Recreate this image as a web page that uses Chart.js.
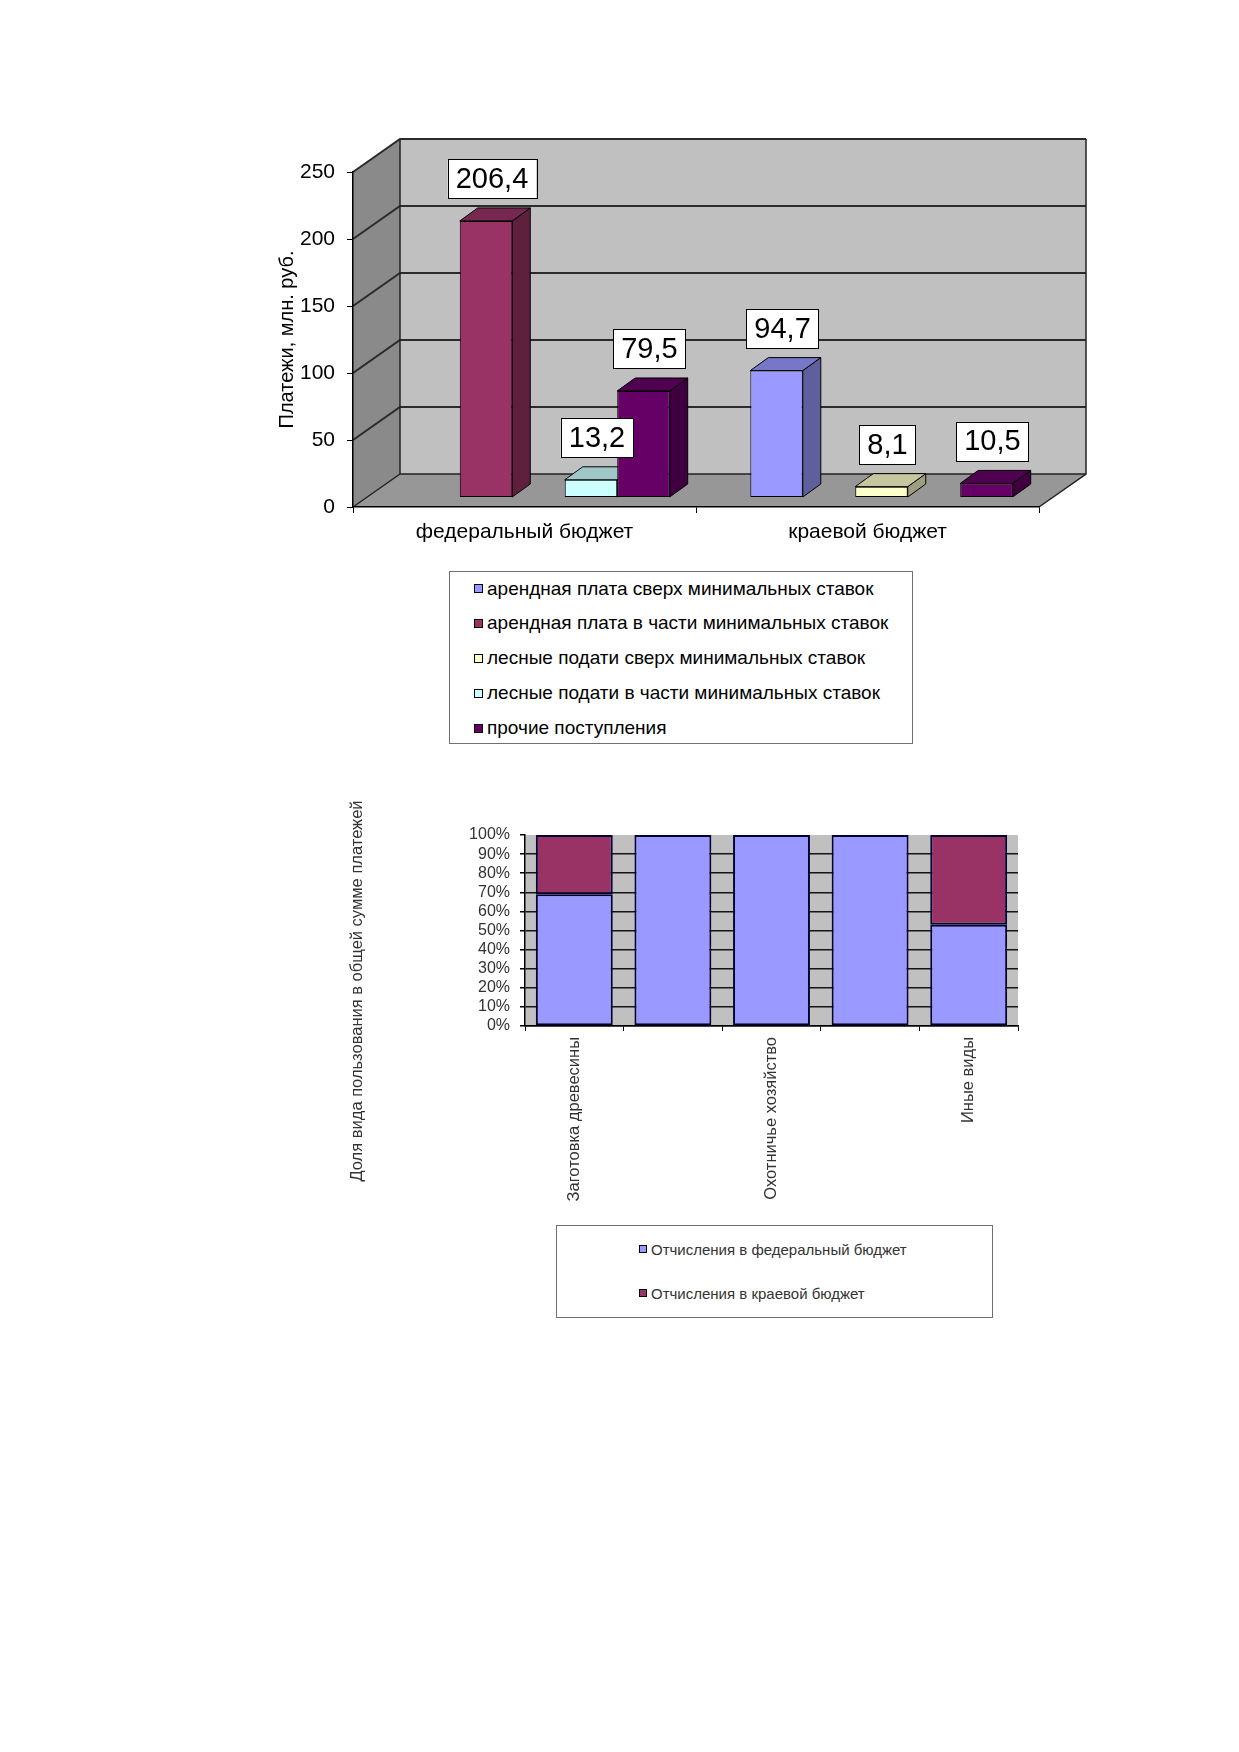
<!DOCTYPE html>
<html><head><meta charset="utf-8">
<script src="https://cdn.jsdelivr.net/npm/chart.js@4.4.1/dist/chart.umd.min.js"></script>
<style>
html,body{margin:0;padding:0;background:#fff;}
body{width:1239px;height:1752px;position:relative;overflow:hidden;font-family:'Liberation Sans',Arial,sans-serif;}
canvas{position:absolute;}
#c1{left:200px;top:100px;}
#c2{left:330px;top:780px;}
.legend{position:absolute;border:1px solid #707070;background:#fff;box-sizing:border-box;}
.legend .item{position:absolute;white-space:nowrap;display:flex;align-items:center;height:22px;}
.legend .mk{display:inline-block;border:1px solid #000;box-sizing:border-box;flex:none;}
</style></head><body>
<canvas id="c1" width="900" height="470" style="width:900px;height:470px"></canvas>
<div id="leg1" class="legend" style="left:449px;top:571px;width:464px;height:173px"></div>
<canvas id="c2" width="720" height="440" style="width:720px;height:440px"></canvas>
<div id="leg2" class="legend" style="left:556px;top:1225px;width:437px;height:93px"></div>
<script>
// ---------- data: chart 1 ----------
const budgetCategories = ['федеральный бюджет', 'краевой бюджет'];
const rentAboveMin   = [null, 94.7];
const rentMinPart    = [206.4, null];
const forestAboveMin = [null, 8.1];
const forestMinPart  = [13.2, null];
const otherIncome    = [79.5, 10.5];
const seriesNames1 = [
  'арендная плата сверх минимальных ставок',
  'арендная плата в части минимальных ставок',
  'лесные подати сверх минимальных ставок',
  'лесные подати в части минимальных ставок',
  'прочие поступления'
];
const yTicks1 = [0, 50, 100, 150, 200, 250];
const yTitle1 = 'Платежи, млн. руб.';

// ---------- data: chart 2 ----------
const useCategories = ['Заготовка древесины', '', 'Охотничье хозяйство', '', 'Иные виды'];
const federalShare  = [69, 100, 100, 100, 53];
const regionalShare = [31, 0, 0, 0, 47];
const seriesNames2 = ['Отчисления в федеральный бюджет', 'Отчисления в краевой бюджет'];
const yTicks2 = [0, 10, 20, 30, 40, 50, 60, 70, 80, 90, 100];
const yTitle2 = 'Доля вида пользования в общей сумме платежей';

// ---------- styles ----------
const colors1 = ['#9999ff', '#993366', '#ffffcc', '#ccffff', '#660066'];
const colors2 = ['#9999ff', '#993366'];
const FONT = "'Liberation Sans', Arial, sans-serif";
Chart.defaults.font.family = FONT;

const WALL = {dx: 47, dy: 33};
const SHIFT = {dx: 14, dy: 9.5};
const BDEPTH = {dx: 18, dy: 13};

function shade(hex, f) {
  const n = parseInt(hex.slice(1), 16);
  const r = Math.round(((n >> 16) & 255) * f), g = Math.round(((n >> 8) & 255) * f), b = Math.round((n & 255) * f);
  return `rgb(${r},${g},${b})`;
}
function poly(ctx, pts, fill, stroke, lw) {
  ctx.beginPath();
  ctx.moveTo(pts[0][0], pts[0][1]);
  for (let i = 1; i < pts.length; i++) ctx.lineTo(pts[i][0], pts[i][1]);
  ctx.closePath();
  if (fill) { ctx.fillStyle = fill; ctx.fill(); }
  if (stroke) { ctx.strokeStyle = stroke; ctx.lineWidth = lw || 1; ctx.stroke(); }
}

const scene3d = {
  id: 'scene3d',
  beforeDraw(chart) {
    const {ctx, chartArea: a, scales: {y}} = chart;
    const L = a.left, R = a.right;
    const T = y.getPixelForValue(yTicks1[yTicks1.length - 1]), B = y.getPixelForValue(0);
    const dx = WALL.dx, dy = WALL.dy;
    ctx.save();
    poly(ctx, [[L + dx, T - dy], [R + dx, T - dy], [R + dx, B - dy], [L + dx, B - dy]], '#c0c0c0');
    poly(ctx, [[L, T], [L + dx, T - dy], [L + dx, B - dy], [L, B]], '#8a8a8a');
    poly(ctx, [[L, B], [R, B], [R + dx, B - dy], [L + dx, B - dy]], '#979797');
    ctx.strokeStyle = '#2b2b2b';
    ctx.lineWidth = 2;
    yTicks1.forEach(v => {
      if (v === 0) return;
      const py = y.getPixelForValue(v);
      ctx.beginPath();
      ctx.moveTo(L, py); ctx.lineTo(L + dx, py - dy); ctx.lineTo(R + dx, py - dy);
      ctx.stroke();
    });
    ctx.lineWidth = 1.5;
    ctx.strokeStyle = '#222';
    ctx.beginPath();
    ctx.moveTo(L + dx, T - dy); ctx.lineTo(L + dx, B - dy); ctx.lineTo(R + dx, B - dy);
    ctx.moveTo(R + dx, T - dy); ctx.lineTo(R + dx, B - dy); ctx.lineTo(R, B);
    ctx.moveTo(L, B); ctx.lineTo(L + dx, B - dy);
    ctx.stroke();
    ctx.restore();
  },
  beforeDatasetsDraw(chart) {
    const ctx = chart.ctx;
    const bars = [];
    chart.data.datasets.forEach((ds, di) => {
      const meta = chart.getDatasetMeta(di);
      meta.data.forEach((el, i) => {
        if (ds.data[i] == null) return;
        bars.push({el, color: ds.backgroundColor});
      });
    });
    bars.sort((p, q) => p.el.x - q.el.x);
    ctx.save();
    ctx.lineJoin = 'round';
    bars.forEach(({el, color}) => {
      const h = el.width / 2;
      const cx = el.x + SHIFT.dx, top = el.y - SHIFT.dy, base = el.base - SHIFT.dy;
      const bx = BDEPTH.dx, by = BDEPTH.dy;
      poly(ctx, [[cx + h, top], [cx + h + bx, top - by], [cx + h + bx, base - by], [cx + h, base]], shade(color, 0.62), '#000', 1);
      poly(ctx, [[cx - h, top], [cx + h, top], [cx + h + bx, top - by], [cx - h + bx, top - by]], shade(color, 0.78), '#000', 1);
    });
    ctx.restore();
    ctx.save();
    ctx.translate(SHIFT.dx, -SHIFT.dy);
  },
  afterDatasetsDraw(chart) {
    const ctx = chart.ctx;
    ctx.restore();
    ctx.save();
    ctx.font = '29px ' + FONT;
    ctx.textAlign = 'center';
    ctx.textBaseline = 'middle';
    chart.data.datasets.forEach((ds, di) => {
      const meta = chart.getDatasetMeta(di);
      meta.data.forEach((el, i) => {
        const v = ds.data[i];
        if (v == null) return;
        const txt = String(v).replace('.', ',');
        const cx = el.x + SHIFT.dx + 6, cy = el.y - SHIFT.dy - 42;
        const w = ctx.measureText(txt).width + 16, hh = 39;
        ctx.fillStyle = '#fff';
        ctx.fillRect(cx - w / 2, cy - hh / 2, w, hh);
        ctx.strokeStyle = '#000';
        ctx.lineWidth = 1;
        ctx.strokeRect(Math.round(cx - w / 2) + 0.5, Math.round(cy - hh / 2) + 0.5, Math.round(w), hh);
        ctx.fillStyle = '#000';
        ctx.fillText(txt, cx, cy + 1);
      });
    });
    ctx.restore();
  }
};

const series1 = [rentAboveMin, rentMinPart, forestAboveMin, forestMinPart, otherIncome];
const chart1 = new Chart(document.getElementById('c1'), {
  type: 'bar',
  data: {
    labels: budgetCategories,
    datasets: series1.map((d, i) => ({
      label: seriesNames1[i], data: d,
      backgroundColor: colors1[i], borderColor: '#000', borderWidth: 1, borderSkipped: false
    }))
  },
  options: {
    responsive: false, animation: false,
    layout: {padding: {left: 0, right: 61, top: 72, bottom: 0}},
    datasets: {bar: {barPercentage: 1, categoryPercentage: 0.765}},
    plugins: {legend: {display: false}, tooltip: {enabled: false}},
    scales: {
      x: {
        afterFit(s) { s.height = 63; },
        grid: {offset: true, drawOnChartArea: false, tickLength: 6, color: '#000'},
        border: {color: '#000', width: 1.5},
        ticks: {color: '#000', font: {size: 21}, padding: 7}
      },
      y: {
        min: 0, max: 250,
        afterFit(s) { s.width = 153; },
        afterBuildTicks(s) { s.ticks = yTicks1.map(v => ({value: v})); },
        grid: {drawOnChartArea: false, tickLength: 6, color: '#000'},
        border: {color: '#000', width: 1.5},
        ticks: {color: '#000', font: {size: 21}, padding: 12, autoSkip: false},
        title: {display: true, text: yTitle1, color: '#000', font: {size: 20}, padding: {top: 75, bottom: 0}}
      }
    }
  },
  plugins: [scene3d]
});

// ---------- chart 2 ----------
const plotBg = {
  id: 'plotBg',
  beforeDraw(chart) {
    const {ctx, chartArea: a} = chart;
    ctx.save();
    ctx.fillStyle = '#c0c0c0';
    ctx.fillRect(a.left, a.top, a.right - a.left, a.bottom - a.top);
    ctx.restore();
  },
  afterDraw(chart) {
    const ctx = chart.ctx;
    ctx.save();
    ctx.translate(27, 211);
    ctx.rotate(-Math.PI / 2);
    ctx.font = '16.5px ' + FONT;
    ctx.fillStyle = '#333';
    ctx.textAlign = 'center';
    ctx.textBaseline = 'middle';
    ctx.fillText(yTitle2, 0, 0);
    ctx.restore();
  }
};

const chart2 = new Chart(document.getElementById('c2'), {
  type: 'bar',
  data: {
    labels: useCategories,
    datasets: [federalShare, regionalShare].map((d, i) => ({
      label: seriesNames2[i], data: d,
      backgroundColor: colors2[i], borderColor: '#000033',
      borderWidth: c => (c.raw ? 2 : 0), borderSkipped: false
    }))
  },
  options: {
    responsive: false, animation: false,
    layout: {padding: {left: 0, right: 32, top: 55, bottom: 0}},
    datasets: {bar: {barPercentage: 0.78, categoryPercentage: 1}},
    plugins: {legend: {display: false}, tooltip: {enabled: false}},
    scales: {
      x: {
        stacked: true,
        afterFit(s) { s.height = 194; },
        grid: {offset: true, drawOnChartArea: false, tickLength: 5, color: '#000'},
        border: {color: '#000', width: 1.5},
        ticks: {autoSkip: false, maxRotation: 90, minRotation: 90, padding: 6, color: '#333', font: {size: 16.5}}
      },
      y: {
        stacked: true, min: 0, max: 100,
        afterFit(s) { s.width = 195; },
        afterBuildTicks(s) { s.ticks = yTicks2.map(v => ({value: v})); },
        grid: {color: c => (c.tick && c.tick.value === 100 ? 'rgba(0,0,0,0)' : '#151515'), lineWidth: 1.5, tickLength: 5, tickColor: '#000'},
        border: {color: '#000', width: 1.5},
        ticks: {autoSkip: false, callback: v => v + '%', padding: 10, color: '#333', font: {size: 16}}
      }
    }
  },
  plugins: [plotBg]
});

// ---------- HTML legends built from the charts' datasets ----------
function buildLegend(id, chart, o) {
  const box = document.getElementById(id);
  chart.data.datasets.forEach((ds, i) => {
    const it = document.createElement('div');
    it.className = 'item';
    it.style.left = o.left + 'px';
    it.style.top = (o.first + i * o.step - 11) + 'px';
    const mk = document.createElement('span');
    mk.className = 'mk';
    mk.style.width = o.mk + 'px'; mk.style.height = o.mk + 'px';
    mk.style.background = ds.backgroundColor;
    mk.style.marginRight = o.gap + 'px';
    const tx = document.createElement('span');
    tx.textContent = ds.label;
    tx.style.fontSize = o.size + 'px';
    tx.style.color = o.color;
    it.appendChild(mk); it.appendChild(tx);
    box.appendChild(it);
  });
}
buildLegend('leg1', chart1, {left: 24, first: 16.5, step: 34.9, mk: 9, gap: 4, size: 19, color: '#000'});
buildLegend('leg2', chart2, {left: 82, first: 23, step: 44, mk: 8, gap: 4, size: 15, color: '#333'});
</script>
</body></html>
